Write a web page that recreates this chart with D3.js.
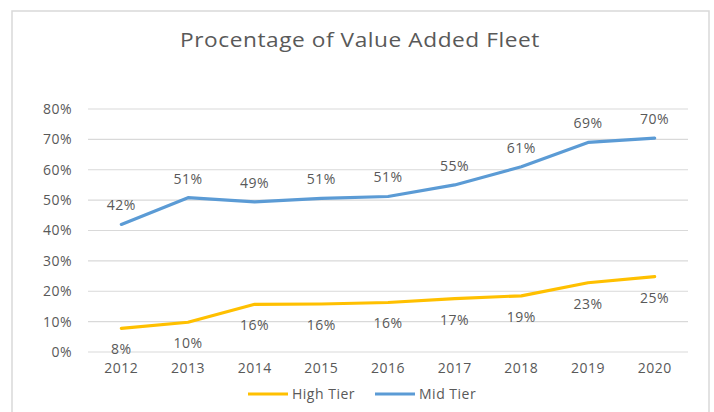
<!DOCTYPE html>
<html>
<head>
<meta charset="utf-8">
<script src="https://cdn.jsdelivr.net/npm/d3@7"></script>
<style>
  body { margin: 0; background: #fff; }
  text { font-family: "Open Sans", "Noto Sans", sans-serif; fill: #595959; letter-spacing: 0.5px; }
</style>
</head>
<body>
<div id="chart"></div>
<script>
const years = ['2012', '2013', '2014', '2015', '2016', '2017', '2018', '2019', '2020'];
const highTier = [7.8, 9.8, 15.7, 15.8, 16.3, 17.6, 18.5, 22.8, 24.8];
const midTier = [42, 50.8, 49.4, 50.6, 51.2, 55, 61, 69, 70.4];
const highLabels = ['8%', '10%', '16%', '16%', '16%', '17%', '19%', '23%', '25%'];
const midLabels = ['42%', '51%', '49%', '51%', '51%', '55%', '61%', '69%', '70%'];
const yTicks = [0, 10, 20, 30, 40, 50, 60, 70, 80];

const width = 714, height = 412;
const margin = { top: 109, right: 26, bottom: 60, left: 88 };

const svg = d3.select('#chart').append('svg')
  .attr('width', width)
  .attr('height', height);

// cadre du graphique
svg.append('rect')
  .attr('x', 12).attr('y', 11)
  .attr('width', 697).attr('height', 420)
  .attr('fill', '#fff')
  .attr('stroke', '#d9d9d9')
  .attr('stroke-width', 1.5);

svg.append('text')
  .attr('x', 360).attr('y', 47)
  .attr('text-anchor', 'middle')
  .attr('font-size', 20)
  .attr('textLength', 360)
  .attr('lengthAdjust', 'spacingAndGlyphs')
  .text('Procentage of Value Added Fleet');

const x = d3.scaleBand()
  .domain(years)
  .range([margin.left, width - margin.right]);

const y = d3.scaleLinear()
  .domain([0, 80])
  .range([352, margin.top]);

// grille
svg.append('g')
  .selectAll('line')
  .data(yTicks)
  .join('line')
  .attr('x1', margin.left).attr('x2', width - margin.right)
  .attr('y1', d => y(d)).attr('y2', d => y(d))
  .attr('stroke', '#d9d9d9')
  .attr('stroke-width', 1.2);

const yAxis = svg.append('g')
  .attr('transform', `translate(${margin.left},0)`)
  .call(d3.axisLeft(y).tickValues(yTicks).tickSize(0).tickPadding(16).tickFormat(d => d + '%'));
yAxis.select('.domain').remove();
yAxis.selectAll('text').attr('font-size', 14).attr('font-family', '"Open Sans", sans-serif').attr('fill', '#595959');

const xAxis = svg.append('g')
  .attr('transform', `translate(0,${y(0)})`)
  .call(d3.axisBottom(x).tickSize(0).tickPadding(11));
xAxis.select('.domain').remove();
xAxis.selectAll('text').attr('font-size', 14).attr('font-family', '"Open Sans", sans-serif').attr('fill', '#595959');

const cx = d => x(d) + x.bandwidth() / 2;

const series = [
  { name: 'High Tier', values: highTier, labels: highLabels, color: '#ffc000', dy: 26 },
  { name: 'Mid Tier', values: midTier, labels: midLabels, color: '#5b9bd5', dy: -14 },
];

const line = d3.line()
  .x((d, i) => cx(years[i]))
  .y(d => y(d));

for (const s of series) {
  svg.append('path')
    .datum(s.values)
    .attr('fill', 'none')
    .attr('stroke', s.color)
    .attr('stroke-width', 3.2)
    .attr('stroke-linejoin', 'round')
    .attr('stroke-linecap', 'round')
    .attr('d', line);

  svg.append('g')
    .selectAll('text')
    .data(s.values)
    .join('text')
    .attr('x', (d, i) => cx(years[i]))
    .attr('y', d => y(d) + s.dy)
    .attr('text-anchor', 'middle')
    .attr('font-size', 14)
    .text((d, i) => s.labels[i]);
}

// légende
const legend = svg.append('g').attr('transform', 'translate(248,394)');
const legendX = [0, 127];
series.forEach((s, i) => {
  const g = legend.append('g').attr('transform', `translate(${legendX[i]},0)`);
  g.append('line')
    .attr('x1', 0).attr('x2', 40)
    .attr('stroke', s.color)
    .attr('stroke-width', 3.2);
  g.append('text')
    .attr('x', 44).attr('y', 5)
    .attr('font-size', 14)
    .text(s.name);
});
</script>
</body>
</html>
